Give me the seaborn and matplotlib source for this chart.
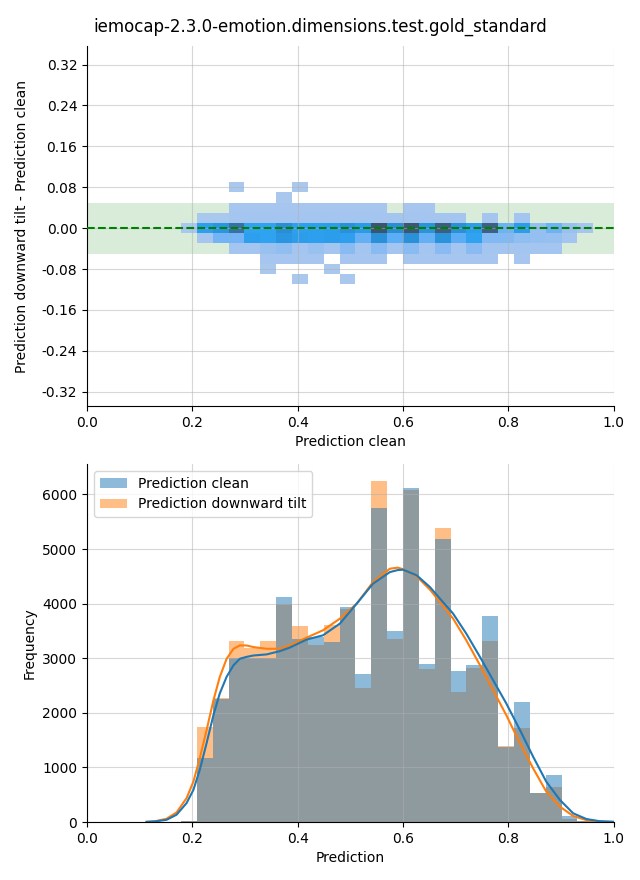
import numpy as np
import pandas as pd
import matplotlib
matplotlib.use("Agg")
import matplotlib.pyplot as plt
import seaborn as sns

TITLE = "iemocap-2.3.0-emotion.dimensions.test.gold_standard"
LABEL_CLEAN = "Prediction clean"
LABEL_TILT = "Prediction downward tilt"

# Histogram bin edges shared by both panels (x = Prediction)
bin_edges = [0.1785, 0.2086, 0.2387, 0.2688, 0.2989, 0.3290, 0.3591, 0.3892,
             0.4193, 0.4494, 0.4795, 0.5096, 0.5397, 0.5698, 0.5999, 0.6300,
             0.6601, 0.6902, 0.7203, 0.7504, 0.7805, 0.8106, 0.8407, 0.8708,
             0.9009, 0.9310, 0.9611]

# Bottom panel: counts per bin
counts_clean = [25, 1180, 2260, 3000, 3000, 3000, 4120, 3360, 3380, 3300, 3940,
                2710, 5750, 3490, 6120, 2890, 5180, 2760, 2870, 3770, 1372,
                2195, 537, 860, 116, 20]
counts_tilt = [20, 1740, 2280, 3317, 3180, 3310, 3990, 3590, 3238, 3600, 3895,
               2450, 6245, 3350, 6080, 2800, 5385, 2385, 2829, 3317, 1390,
               1726, 530, 640, 61, 10]

# Bottom panel: density curves (scaled to counts)
kde_x = [0.113, 0.130, 0.151, 0.170, 0.189, 0.202, 0.214, 0.227, 0.240, 0.252,
         0.265, 0.278, 0.290, 0.303, 0.316, 0.341, 0.366, 0.385, 0.417, 0.448,
         0.480, 0.512, 0.543, 0.575, 0.590, 0.600, 0.626, 0.651, 0.676, 0.695,
         0.720, 0.746, 0.771, 0.796, 0.822, 0.847, 0.872, 0.898, 0.923, 0.948,
         0.973, 1.0]
kde_clean = [3, 12, 40, 134, 347, 590, 955, 1445, 1960, 2355,
             2660, 2870, 2990, 3025, 3050, 3070, 3130, 3195, 3342, 3420,
             3634, 4000, 4366, 4578, 4615, 4622, 4518, 4304, 4025, 3817,
             3451, 3024, 2597, 2171, 1683, 1195, 737, 402, 159, 55,
             15, 4]
kde_tilt = [3, 15, 60, 176, 438, 742, 1167, 1684, 2231, 2657,
            2990, 3173, 3234, 3234, 3204, 3173, 3173, 3238, 3378, 3512,
            3725, 4000, 4396, 4640, 4659, 4630, 4500, 4256, 3960, 3725,
            3329, 2872, 2414, 1957, 1439, 982, 554, 280, 110, 35,
            8, 2]

# Top panel: 2D histogram rows (difference value -> counts per x bin)
diff_edges = [-0.11, -0.09, -0.07, -0.05, -0.03, -0.01, 0.01, 0.03, 0.05, 0.07, 0.09]
row_p08 = [0, 0, 0, 20, 0, 0, 0, 20, 0, 0, 0, 0, 0, 0, 0, 0, 0, 0, 0, 0, 0, 0, 0, 0, 0, 0]
row_p06 = [0, 0, 0, 0, 0, 0, 20, 0, 0, 0, 0, 0, 0, 0, 0, 0, 0, 0, 0, 0, 0, 0, 0, 0, 0, 0]
row_p04 = [0, 0, 0, 60, 60, 60, 60, 60, 60, 60, 60, 60, 60, 0, 60, 60, 0, 0, 0, 0, 0, 0, 0, 0, 0, 0]
row_p02 = [0, 30, 30, 80, 80, 80, 80, 80, 80, 80, 80, 80, 80, 80, 80, 80, 80, 80, 0, 80, 0, 80, 0, 0, 0, 0]
row_000 = [30, 900, 1100, 1800, 850, 850, 1250, 900, 900, 950, 1200, 1000, 2400, 1250,
           2350, 1150, 2200, 1200, 950, 2150, 500, 950, 220, 500, 180, 60]
row_m02 = [0, 60, 450, 450, 900, 850, 1100, 950, 900, 950, 900, 550, 1200, 600,
           1200, 550, 1150, 600, 850, 350, 350, 250, 220, 200, 80, 0]
row_m04 = [0, 0, 0, 80, 80, 180, 250, 80, 180, 80, 300, 80, 300, 80, 300, 80, 300, 80,
           300, 80, 80, 80, 80, 80, 0, 0]
row_m06 = [0, 0, 0, 0, 0, 60, 60, 60, 60, 0, 60, 60, 60, 0, 60, 60, 60, 60, 60, 60, 0, 60, 0, 0, 0, 0]
row_m08 = [0, 0, 0, 0, 0, 30, 0, 0, 0, 30, 0, 0, 0, 0, 0, 0, 0, 0, 0, 0, 0, 0, 0, 0, 0, 0]
row_m10 = [0, 0, 0, 0, 0, 0, 0, 20, 0, 0, 20, 0, 0, 0, 0, 0, 0, 0, 0, 0, 0, 0, 0, 0, 0, 0]
diff_values = [0.08, 0.06, 0.04, 0.02, 0.0, -0.02, -0.04, -0.06, -0.08, -0.10]
diff_rows = [row_p08, row_p06, row_p04, row_p02, row_000, row_m02, row_m04, row_m06, row_m08, row_m10]

# ---------------------------------------------------------------- data frames
edges = np.array(bin_edges)
centers = (edges[:-1] + edges[1:]) / 2

hist_df = pd.concat([
    pd.DataFrame({"Prediction": centers, "count": counts_clean, "series": LABEL_CLEAN}),
    pd.DataFrame({"Prediction": centers, "count": counts_tilt, "series": LABEL_TILT}),
], ignore_index=True)

kde_df = pd.concat([
    pd.DataFrame({"x": kde_x, "y": kde_tilt, "series": LABEL_TILT}),
    pd.DataFrame({"x": kde_x, "y": kde_clean, "series": LABEL_CLEAN}),
], ignore_index=True)

recs = []
for dv, row in zip(diff_values, diff_rows):
    for cx, c in zip(centers, row):
        if c > 0:
            recs.append((cx, dv, c))
two_d = pd.DataFrame(recs, columns=["clean", "diff", "count"])

# ---------------------------------------------------------------- figure
fig = plt.figure(figsize=(6.4, 8.8), dpi=100)
ax1 = fig.add_axes([0.136, 0.5386, 0.823, 0.409])
ax2 = fig.add_axes([0.136, 0.0659, 0.823, 0.4068])

grid_kw = dict(color="#b0b0b0", alpha=0.5, linewidth=0.8)

# top panel
ax1.axhspan(-0.05, 0.05, color="green", alpha=0.15, linewidth=0, zorder=0)
sns.histplot(data=two_d, x="clean", y="diff", weights="count",
             bins=[list(bin_edges), list(diff_edges)], ax=ax1)
ax1.axhline(0, color="green", linestyle="--", linewidth=1.5, zorder=3)
ax1.set_xlim(0, 1)
ax1.set_ylim(-0.348, 0.356)
ax1.set_yticks([-0.32, -0.24, -0.16, -0.08, 0.0, 0.08, 0.16, 0.24, 0.32])
ax1.set_xticks([0.0, 0.2, 0.4, 0.6, 0.8, 1.0])
ax1.yaxis.set_major_formatter(matplotlib.ticker.FormatStrFormatter("%.2f"))
ax1.grid(True, **grid_kw)
ax1.set_xlabel("Prediction clean")
ax1.set_ylabel("Prediction downward tilt - Prediction clean", labelpad=9)
sns.despine(ax=ax1)

# bottom panel
sns.histplot(data=hist_df, x="Prediction", weights="count", hue="series",
             hue_order=[LABEL_CLEAN, LABEL_TILT], palette=["C0", "C1"],
             bins=list(bin_edges), alpha=0.5, linewidth=0, ax=ax2)
sns.lineplot(data=kde_df, x="x", y="y", hue="series",
             hue_order=[LABEL_TILT, LABEL_CLEAN],
             palette={LABEL_CLEAN: "C0", LABEL_TILT: "C1"},
             linewidth=1.5, legend=False, ax=ax2)
ax2.set_xlim(0, 1)
ax2.set_xticks([0.0, 0.2, 0.4, 0.6, 0.8, 1.0])
ax2.set_yticks([0, 1000, 2000, 3000, 4000, 5000, 6000])
ax2.grid(True, **grid_kw)
ax2.set_xlabel("Prediction")
ax2.set_ylabel("Frequency")
sns.despine(ax=ax2)
sns.move_legend(ax2, "upper left", title=None)

fig.suptitle(TITLE, fontsize=12)
fig.savefig("out.png", dpi=100)
